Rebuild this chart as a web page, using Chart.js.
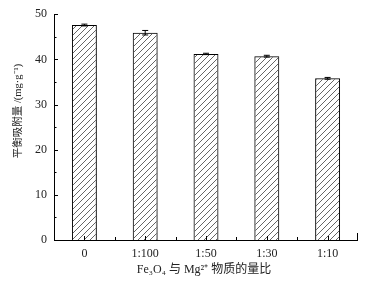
<!DOCTYPE html>
<html lang="zh">
  <head>
    <meta charset="UTF-8" />
    <title>平衡吸附量</title>
    <style>
      * {
        margin: 0;
        padding: 0;
        box-sizing: border-box;
      }
      body {
        background: #fff;
      }
      .chartBox {
        width: 377px;
        height: 286px;
      }
    </style>
  </head>
  <body>
    <div class="chartBox">
      <canvas id="myChart"></canvas>
    </div>

    <script src="https://cdn.jsdelivr.net/npm/chart.js"></script>

    <script>
      const ratios = ["0", "1:100", "1:50", "1:30", "1:10"];
      const adsorption = [47.6, 45.9, 41.2, 40.7, 35.8];
      const errors = [0.2, 0.5, 0.15, 0.2, 0.2];
      const yTicks = [0, 10, 20, 30, 40, 50];
      const xTitle = "Fe₃O₄ 与 Mg²⁺ 物质的量比";
      const yTitle = "平衡吸附量 /(mg·g⁻¹)";

      const serif = "'Liberation Serif', 'Times New Roman', 'Noto Sans CJK SC', serif";

      function makeHatch() {
        const c = document.createElement("canvas");
        c.width = 6;
        c.height = 6;
        const p = c.getContext("2d");
        p.strokeStyle = "#555";
        p.lineWidth = 0.9;
        p.beginPath();
        p.moveTo(0, 6);
        p.lineTo(6, 0);
        p.moveTo(-1, 1);
        p.lineTo(1, -1);
        p.moveTo(5, 7);
        p.lineTo(7, 5);
        p.stroke();
        return p.createPattern(c, "repeat");
      }

      // axis lines, inward ticks, error bars and axis titles
      const axesAndErrors = {
        id: "axesAndErrors",
        afterDatasetsDraw(chart) {
          const {
            ctx,
            chartArea: { left, right, top, bottom },
            scales: { x, y },
          } = chart;
          ctx.save();
          ctx.strokeStyle = "#000";
          ctx.lineWidth = 1;

          // error bars
          adsorption.forEach((v, i) => {
            const cx = x.getPixelForValue(i);
            const yHi = y.getPixelForValue(v + errors[i]);
            const yLo = y.getPixelForValue(v - errors[i]);
            ctx.beginPath();
            ctx.moveTo(cx, yHi);
            ctx.lineTo(cx, yLo);
            ctx.moveTo(cx - 3, yHi);
            ctx.lineTo(cx + 3, yHi);
            ctx.moveTo(cx - 3, yLo);
            ctx.lineTo(cx + 3, yLo);
            ctx.stroke();
          });

          // axes
          ctx.beginPath();
          ctx.moveTo(left + 0.5, y.getPixelForValue(50));
          ctx.lineTo(left + 0.5, bottom + 0.5);
          ctx.lineTo(right, bottom + 0.5);
          ctx.moveTo(right - 0.5, bottom);
          ctx.lineTo(right - 0.5, bottom - 7);
          ctx.stroke();

          // y ticks
          ctx.beginPath();
          for (let v = 0; v <= 50; v += 5) {
            const py = Math.round(y.getPixelForValue(v)) + 0.5;
            const len = v % 10 === 0 ? 4 : 2.5;
            ctx.moveTo(left, py);
            ctx.lineTo(left + len, py);
          }
          // x ticks
          ratios.forEach((r, i) => {
            const cx = Math.round(x.getPixelForValue(i)) + 0.5;
            ctx.moveTo(cx, bottom);
            ctx.lineTo(cx, bottom - 4);
            if (i > 0) {
              const mx =
                Math.round((x.getPixelForValue(i) + x.getPixelForValue(i - 1)) / 2) + 0.5;
              ctx.moveTo(mx, bottom);
              ctx.lineTo(mx, bottom - 3);
            }
          });
          ctx.stroke();

          // titles
          ctx.fillStyle = "#222";
          ctx.textAlign = "center";
          ctx.textBaseline = "middle";
          ctx.font = "12px " + serif;
          ctx.fillText(xTitle, (left + right) / 2 - 2, bottom + 30);

          ctx.font = "10.5px " + serif;
          ctx.translate(18, 111);
          ctx.rotate(-Math.PI / 2);
          ctx.fillText(yTitle, 0, 0);
          ctx.restore();
        },
      };

      const ctx = document.getElementById("myChart");

      const myChart = new Chart(ctx, {
        type: "bar",
        data: {
          labels: ratios,
          datasets: [
            {
              data: adsorption,
              backgroundColor: makeHatch(),
              borderColor: "#000",
              borderWidth: 1,
              categoryPercentage: 1,
              barPercentage: 0.41,
            },
          ],
        },
        options: {
          responsive: true,
          maintainAspectRatio: false,
          animation: false,
          layout: {
            padding: { top: 14, right: 19, bottom: 0, left: 0 },
          },
          plugins: {
            legend: { display: false },
            tooltip: { enabled: false },
          },
          scales: {
            x: {
              grid: { display: false, drawTicks: false },
              border: { display: false },
              ticks: {
                color: "#222",
                padding: 7,
                font: { family: serif, size: 12 },
              },
              afterFit(scale) {
                scale.height = 46;
              },
            },
            y: {
              min: 0,
              max: 50,
              afterBuildTicks(scale) {
                scale.ticks = yTicks.map((v) => ({ value: v }));
              },
              grid: { display: false, drawTicks: false },
              border: { display: false },
              ticks: {
                color: "#222",
                padding: 7,
                font: { family: serif, size: 12 },
              },
              afterFit(scale) {
                scale.width = 54;
              },
            },
          },
        },
        plugins: [axesAndErrors],
      });
    </script>
  </body>
</html>
